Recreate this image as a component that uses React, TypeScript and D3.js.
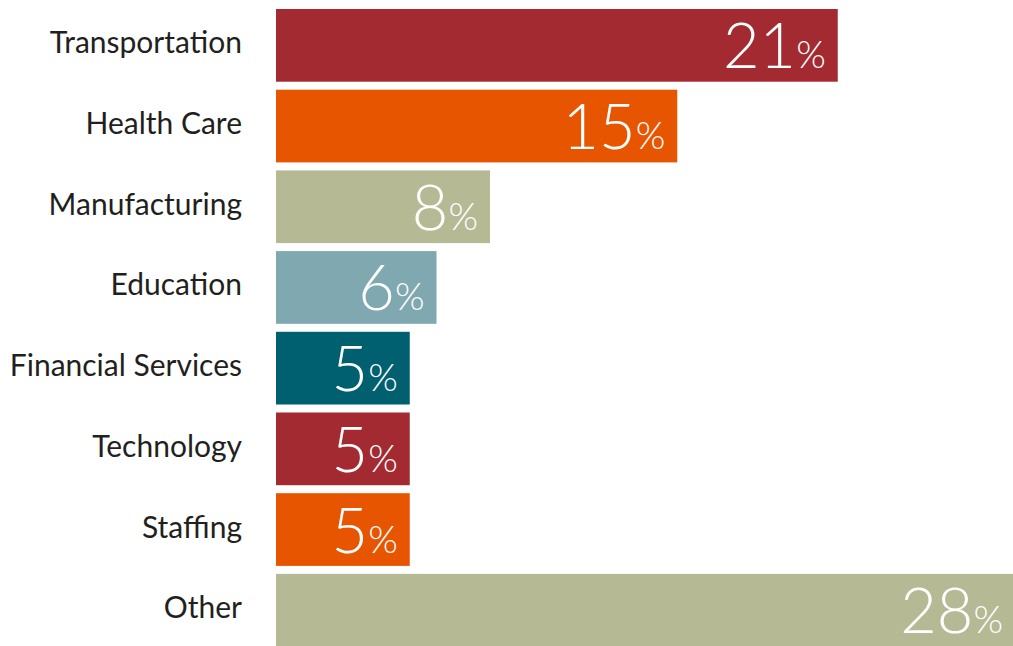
import React, { useEffect, useRef } from 'react';
import * as d3 from 'd3';

// 行业分布数据
const categories = ['Transportation', 'Health Care', 'Manufacturing', 'Education', 'Financial Services', 'Technology', 'Staffing', 'Other'];
const values = [21, 15, 8, 6, 5, 5, 5, 28];
const colors = ['#a22a30', '#e85500', '#b5b994', '#7fa8b0', '#00606f', '#a22a30', '#e85500', '#b5b994'];

const W = 1013;
const H = 646;

export default function App() {
  const svgRef = useRef<SVGSVGElement>(null);

  useEffect(() => {
    if (!svgRef.current) return;
    const svg = d3.select(svgRef.current);
    svg.selectAll('*').remove();

    const x = d3.scaleLinear().domain([0, 28]).range([276, 1025]);
    const y = d3.scaleBand<string>()
      .domain(categories)
      .range([9, 646.6])
      .paddingInner(0.099)
      .paddingOuter(0);

    const rows = categories.map((c, i) => ({ c, v: values[i], color: colors[i] }));

    // 条形
    svg.append('g')
      .selectAll('rect')
      .data(rows)
      .join('rect')
      .attr('x', x(0))
      .attr('y', d => y(d.c)!)
      .attr('width', d => x(d.v) - x(0))
      .attr('height', y.bandwidth())
      .attr('fill', d => d.color);

    // 类别标签
    svg.append('g')
      .selectAll('text')
      .data(rows)
      .join('text')
      .attr('x', 242)
      .attr('y', d => y(d.c)! + y.bandwidth() / 2 + 8)
      .attr('text-anchor', 'end')
      .attr('font-family', 'Lato, "Open Sans", sans-serif')
      .attr('font-size', 30)
      .attr('fill', '#231f20')
      .text(d => d.c);

    // 数值标签
    const vals = svg.append('g')
      .selectAll('text')
      .data(rows)
      .join('text')
      .attr('x', d => Math.min(x(d.v) - 12, W - 10))
      .attr('y', d => y(d.c)! + y.bandwidth() / 2 + 23)
      .attr('text-anchor', 'end')
      .attr('font-family', 'Lato, "Open Sans", sans-serif')
      .attr('font-weight', 300)
      .attr('fill', '#fff');
    vals.append('tspan').attr('font-size', 63).text(d => String(d.v));
    vals.append('tspan').attr('font-size', 38).text('%');
  }, []);

  return (
    <svg
      ref={svgRef}
      width={W}
      height={H}
      style={{ position: 'absolute', left: 0, top: 0, background: '#fff' }}
    />
  );
}
